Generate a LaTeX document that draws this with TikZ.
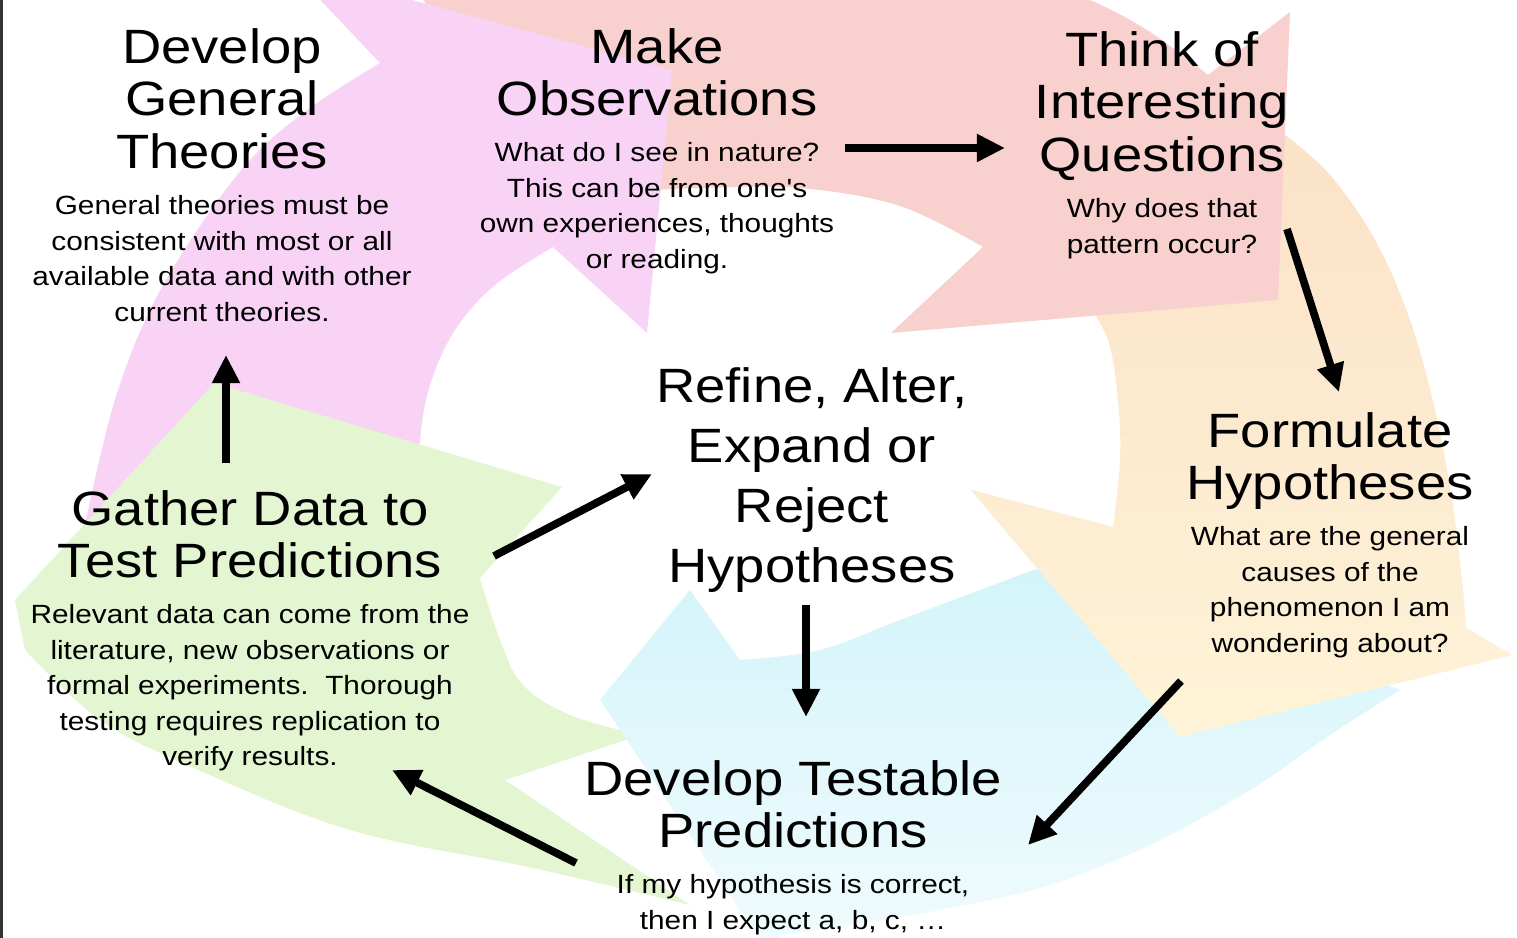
\documentclass[tikz,border=0pt]{standalone}
\usepackage{fontspec}
\setmainfont{Liberation Sans}
\newfontfamily\diagfont[FakeStretch=1.13]{Liberation Sans}
\usetikzlibrary{arrows.meta}
\definecolor{pinkA}{HTML}{F9D3F5}
\definecolor{salmonA}{HTML}{F8D0CD}
\definecolor{peachTop}{HTML}{FBE2C8}
\definecolor{peachBot}{HTML}{FEF3D8}
\definecolor{greenA}{HTML}{E3F6D1}
\definecolor{cyanA}{HTML}{D3F4FA}
\tikzset{
  ttl/.style={font=\diagfont\fontsize{13.7}{14.9}\selectfont, align=center, inner sep=0pt, anchor=north},
  ctr/.style={font=\diagfont\fontsize{13.7}{17.1}\selectfont, align=center, inner sep=0pt, anchor=north},
  sml/.style={font=\diagfont\fontsize{7.5}{10.1}\selectfont, align=center, inner sep=0pt, anchor=north},
  flow/.style={line width=2.2pt, -{Triangle[length=8pt,width=7.5pt]}},
  peachfill/.style={top color=peachTop, bottom color=peachBot},
  cyanfill/.style={top color=cyanA, bottom color=cyanA!25},
}
\begin{document}
\begin{tikzpicture}[x=0.1mm,y=-0.1mm]
\useasboundingbox (0,0) rectangle (1517,938);
\fill[white] (0,0) rectangle (1517,938);
\begin{scope}
\clip (0,0) rectangle (1517,938);
% peach arrow (right)
\def\peachpath{(1085,300) -- plot[smooth,tension=0.6] coordinates {(1285,135) (1330,175) (1375,240) (1410,320) (1435,410) (1452,500) (1462,580) (1466,628)} -- (1512,655) -- (1180,737) -- (971,490) -- plot[smooth,tension=0.6] coordinates {(1113,527) (1120,460) (1118,400) (1108,340) (1085,300)} -- cycle}
\path[peachfill] \peachpath;
% salmon arrow (top right)
\fill[salmonA] (560,190) -- (380,-60) -- (800,-60) -- plot[smooth,tension=0.6] coordinates {(1000,-35) (1090,0) (1150,32) (1208,75)} -- (1290,12) -- (1278,300) -- (891,333) -- plot[smooth,tension=0.6] coordinates {(983,247) (900,206) (800,188) (700,188) (620,192)} -- cycle;
% pink arrow (top left)
\fill[pinkA] (418,500) -- plot[smooth,tension=0.6] coordinates {(82,540) (97,470) (118,390) (150,310) (194,235) (250,160) (310,108) (380,63)} -- (289,-33) -- (672,70) -- (647,333) -- plot[smooth,tension=0.6] coordinates {(553,247) (495,285) (455,330) (430,385) (420,440) (418,500)} -- cycle;
% green arrow (left)
\fill[greenA] (480,578) -- (562,487) -- (214,383) -- (15,600) -- plot[smooth,tension=0.6] coordinates {(25,650) (100,720) (194,768) (350,830) (533,868) (690,905)} -- (505,780) -- plot[smooth,tension=0.6] coordinates {(640,735) (570,715) (523,685) (500,640) (480,578)} -- cycle;
% cyan arrow (bottom)
\path[cyanfill] (1060,560) -- plot[smooth,tension=0.6] coordinates {(1400,690) (1330,735) (1250,790) (1150,845) (1050,885) (950,908) (850,925) (780,935)} -- (800,1000) -- (600,700) -- (690,590) -- plot[smooth,tension=0.6] coordinates {(740,660) (820,650) (900,620) (980,590) (1060,560)} -- cycle;
% peach head again, above the cyan tail
\begin{scope}
\clip (1466,628) -- (1512,655) -- (1180,737) -- (971,490) -- (1113,527) -- cycle;
\path[peachfill] \peachpath;
\end{scope}
\end{scope}
\draw[line width=1.2pt, black!80] (0.6,0) -- (0.6,938);
% texts
\node[ttl] (devgen) at (222,28) {Develop\\General\\Theories};
\node[sml] (devgenT) at (222,195) {General theories must be\\consistent with most or all\\available data and with other\\current theories.};
\node[ttl] (obs) at (657,28) {Make\\Observations};
\node[sml] (obsT) at (657,142) {What do I see in nature?\\This can be from one's\\own experiences, thoughts\\or reading.};
\node[ttl] (quest) at (1162,31) {Think of\\Interesting\\Questions};
\node[sml] (questT) at (1162,198) {Why does that\\pattern occur?};
\node[ttl] (hyp) at (1330,412) {Formulate\\Hypotheses};
\node[sml] (hypT) at (1330,526) {What are the general\\causes of the\\phenomenon I am\\wondering about?};
\node[ttl] (pred) at (793,760) {Develop Testable\\Predictions};
\node[sml] (predT) at (793,874) {If my hypothesis is correct,\\then I expect a, b, c, \dots};
\node[ttl] (gath) at (250,490) {Gather Data to\\Test Predictions};
\node[sml] (gathT) at (250,604) {Relevant data can come from the\\literature, new observations or\\formal experiments.\ \ Thorough\\testing requires replication to\\verify results.};
\node[ctr] (refine) at (812,367) {Refine, Alter,\\Expand or\\Reject\\Hypotheses};
% connector end points
\coordinate (a1s) at (845,148);  \coordinate (a1e) at (1005,148);
\coordinate (a2s) at (1287,229); \coordinate (a2e) at (1339,392);
\coordinate (a3s) at (1181,681); \coordinate (a3e) at (1028,845);
\coordinate (a4s) at (576,863);  \coordinate (a4e) at (392,770);
\coordinate (a5s) at (226,463);  \coordinate (a5e) at (226,355);
\coordinate (a6s) at (494,556);  \coordinate (a6e) at (652,474);
\coordinate (a7s) at (806,605);  \coordinate (a7e) at (806,717);
\draw[flow] (a1s) -- (a1e);
\draw[flow] (a2s) -- (a2e);
\draw[flow] (a3s) -- (a3e);
\draw[flow] (a4s) -- (a4e);
\draw[flow] (a5s) -- (a5e);
\draw[flow] (a6s) -- (a6e);
\draw[flow] (a7s) -- (a7e);
\end{tikzpicture}
\end{document}
